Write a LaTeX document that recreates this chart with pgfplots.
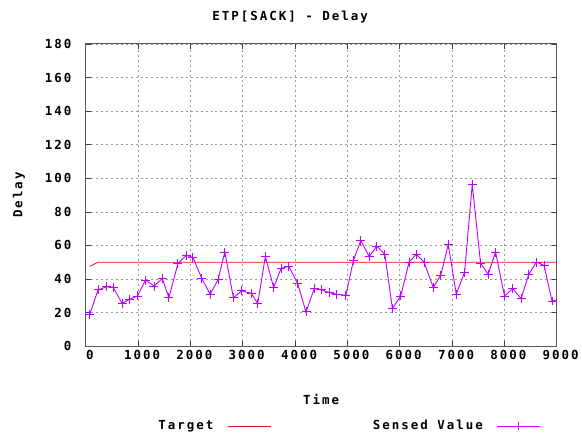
\documentclass[border=0pt]{standalone}
\usepackage{fontspec}
\usepackage{pgfplots}
\pgfplotsset{compat=1.18}
\newfontfamily\gp{DejaVu Sans Mono}[LetterSpace=16]
\definecolor{sensed}{RGB}{192,0,255}
\definecolor{target}{RGB}{235,15,15}

\pgfplotstableread{
t v
76 19.0
235 33.5
394 35.4
521 35.2
693 25.5
839 27.9
985 29.9
1144 39.4
1303 35.8
1462 40.2
1589 28.9
1761 49.3
1920 54.1
2047 52.9
2218 40.2
2378 30.9
2530 39.8
2657 56.0
2822 28.9
2975 32.9
3160 31.5
3286 25.5
3432 53.3
3591 34.9
3731 46.2
3877 47.7
4049 37.4
4209 20.4
4367 34.3
4513 33.5
4653 31.9
4800 30.9
4971 30.3
5117 51.3
5257 63.0
5416 53.3
5562 59.6
5715 54.7
5860 22.4
6020 29.9
6179 50.1
6318 54.7
6465 50.1
6642 34.9
6783 42.2
6928 60.6
7081 30.9
7240 44.1
7386 96.3
7546 49.3
7691 42.8
7832 56.0
8003 29.9
8162 34.3
8320 28.3
8467 42.8
8614 50.1
8759 48.1
8911 26.9
9060 28.0
}\sensedtable

\begin{document}
\begin{tikzpicture}
\begin{axis}[
    scale only axis,
    width=472pt, height=303pt,
    xmin=0, xmax=9000,
    ymin=0, ymax=180,
    xtick distance=1000, ytick distance=20,
    scaled x ticks=false,
    font=\gp\bfseries\fontsize{12.5}{14}\selectfont,
    /pgf/number format/.cd, set thousands separator={}, assume math mode=true,
    /pgfplots/.cd,
    tick align=inside,
    major tick length=5pt,
    tick style={black!75, line width=0.6pt},
    axis line style={black!65, line width=0.9pt},
    grid=major,
    grid style={black!40, line width=0.6pt, dash pattern=on 2pt off 3pt},
    xticklabel style={yshift=-1pt, xshift=4pt},
    yticklabel style={xshift=-11pt},
    title={ETP[SACK] - Delay},
    title style={at={(axis description cs:0.434,1.089)}, anchor=center, yshift=-6pt},
    xlabel={Time},
    xlabel style={at={(axis description cs:0.5,-0.175)}, anchor=center},
    ylabel={Delay},
    ylabel style={at={(axis description cs:-0.142,0.5)}, anchor=center},
    legend columns=2,
    legend plot pos=right,
    legend style={draw=none, fill=none,
        at={(axis description cs:0.558,-0.264)}, anchor=center,
        /tikz/every odd column/.append style={column sep=12pt},
        /tikz/every even column/.append style={column sep=100pt}},
]
\addplot[color=target, line width=0.8pt,
    legend image code/.code={\draw[target, line width=0.8pt] (0pt,0pt) -- (43pt,0pt);}]
    coordinates {(76,47.5) (235,50) (9000,50)};
\addlegendentry{Target}
\addplot[color=sensed, line width=0.9pt, mark=+, mark size=4.5pt, mark options={line width=0.9pt},
    legend image code/.code={\draw[sensed, line width=0.9pt] (0pt,0pt) -- (43pt,0pt);
        \draw[sensed, line width=0.9pt] (21.5pt,-4.5pt) -- (21.5pt,4.5pt);}]
    table[x=t, y=v] {\sensedtable};
\addlegendentry{Sensed Value}
\end{axis}
\path (current axis.south west) ++(-86pt,-91pt) rectangle ++(582pt,438pt);
\end{tikzpicture}
\end{document}
